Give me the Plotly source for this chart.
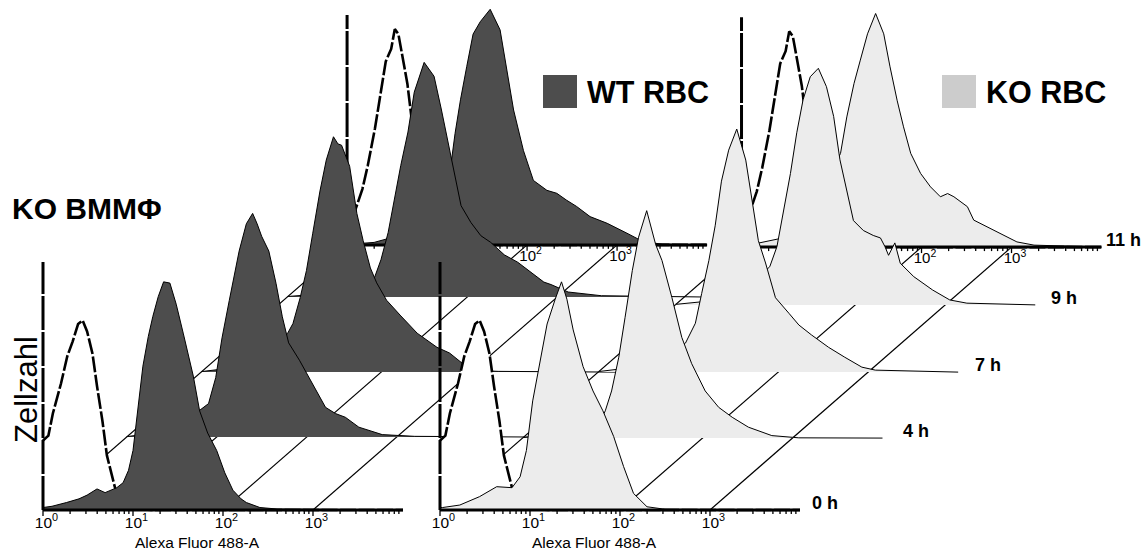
import plotly.graph_objects as go
import math

# ---------------- data (x: log10 fluorescence in decades, y: % of max count) -------------
TIMES = ["0 h", "4 h", "7 h", "9 h", "11 h"]
WT_DEPTH = [0, 29.4, 55.6, 85.9, 106.9]     # layer offset (in % units) for each time point
KO_DEPTH = [0, 29.0, 55.6, 82.7, 106.0]
TICK_DECADES = [0, 1, 2, 3]
TICK_LABELS = ["10<sup>0</sup>", "10<sup>1</sup>", "10<sup>2</sup>", "10<sup>3</sup>"]
AXIS_TITLE = "Alexa Fluor 488-A"

# unstained controls (dashed)
CTRL_0H_X = [0.0, 0.06, 0.11, 0.2, 0.27, 0.33, 0.39, 0.44, 0.49, 0.55, 0.6, 0.66, 0.71, 0.76, 0.8, 0.85, 0.92, 1.0, 1.2, 4.0]
CTRL_0H_Y = [28, 30, 39, 51, 62, 68, 75, 76.5, 72, 63, 50, 36, 22, 15, 9, 4, 1.5, 0.5, 0, 0]
CTRL_11H_X = [0.0, 0.085, 0.17, 0.23, 0.31, 0.38, 0.43, 0.49, 0.53, 0.57, 0.62, 0.67, 0.72, 0.8, 0.88, 0.95, 1.05, 1.2, 4.0]
CTRL_11H_Y = [12, 13.4, 22.5, 32, 47, 63, 74, 79, 87, 85, 75, 65, 50, 30, 14, 5, 1, 0, 0]

# WT RBC samples
WT_X = [
    [0.0, 0.1, 0.26, 0.4, 0.49, 0.6, 0.69, 0.76, 0.82, 0.89, 0.95, 1.0, 1.05, 1.11, 1.17, 1.22, 1.28, 1.34,
     1.41, 1.48, 1.56, 1.62, 1.67, 1.74, 1.83, 1.93, 2.02, 2.11, 2.2, 2.26, 2.41, 2.6, 3.0, 4.0],
    [0, 0.3, 0.6, 0.84, 0.91, 0.99, 1.06, 1.14, 1.25, 1.33, 1.40, 1.45, 1.5, 1.58, 1.66, 1.73, 1.8, 1.92,
     2.06, 2.21, 2.32, 2.43, 2.58, 2.84, 3.2, 4.6],
    [0, 0.3, 0.6, 0.85, 0.96, 1.02, 1.1, 1.17, 1.24, 1.32, 1.39, 1.47, 1.52, 1.56, 1.65, 1.73, 1.8, 1.88,
     1.95, 2.06, 2.21, 2.4, 2.62, 2.76, 2.9, 2.98, 3.3, 4.6],
    [0, 0.5, 0.8, 0.96, 1.04, 1.12, 1.19, 1.26, 1.34, 1.41, 1.52, 1.63, 1.71, 1.82, 1.93, 2.04, 2.15, 2.26,
     2.41, 2.56, 2.71, 2.85, 2.93, 3.12, 3.49, 4.6],
    [0, 0.3, 0.6, 0.9, 1.05, 1.16, 1.2, 1.26, 1.33, 1.4, 1.48, 1.59, 1.7, 1.77, 1.85, 1.96, 2.07, 2.22,
     2.33, 2.44, 2.55, 2.7, 2.89, 3.11, 3.29, 3.5, 4.0],
]
WT_Y = [
    [1, 1.5, 3, 4.5, 6, 8.5, 7, 8, 9, 11, 16, 24, 40, 58, 70, 78, 86, 92,
     91.5, 83, 71, 62, 54, 40, 31, 24, 15, 8, 4.5, 3, 1, 0.4, 0.2, 0],
    [0.2, 1.5, 5, 11.7, 13.5, 24, 40, 55, 75, 86, 90.2, 86, 81, 75, 62, 48.5, 38, 31,
     21.6, 12, 9.5, 8, 4, 1, 0.3, 0],
    [0.2, 1.5, 5, 11, 15.6, 19.6, 30, 41, 56, 73, 85.5, 94.9, 92, 91.5, 83, 64, 53, 42,
     36, 29, 23, 15.7, 10, 7.7, 3.6, 0.8, 0.3, 0],
    [0.2, 1.5, 4, 7, 15, 26, 39.5, 53, 66.5, 82.6, 94.6, 89, 75.8, 55.6, 36.8, 30, 24.7, 22,
     17, 14, 10, 6, 5, 2, 0.5, 0],
    [0.2, 1, 4, 15, 25, 34, 45, 58.5, 72, 85, 90, 95, 86.7, 72, 54.4, 38, 26, 22,
     20.8, 18, 15.5, 11.4, 8.7, 4.7, 1.3, 0.3, 0],
]

# KO RBC samples
KO_X = [
    [0, 0.03, 0.22, 0.44, 0.63, 0.8, 0.89, 0.96, 1.03, 1.11, 1.19, 1.28, 1.35, 1.41, 1.48, 1.59, 1.7, 1.81,
     1.93, 2.04, 2.15, 2.3, 2.5, 4.0],
    [0, 0.5, 0.85, 0.92, 0.99, 1.07, 1.14, 1.22, 1.29, 1.38, 1.48, 1.55, 1.66, 1.77, 1.88, 2.03, 2.18, 2.33,
     2.51, 2.77, 3.07, 4.0],
    [0, 0.3, 0.6, 0.86, 0.97, 1.08, 1.15, 1.23, 1.3, 1.37, 1.45, 1.54, 1.64, 1.71, 1.78, 1.86, 1.97, 2.12,
     2.23, 2.37, 2.56, 2.74, 2.93, 3.08, 4.0],
    [0, 0.5, 0.8, 1.05, 1.13, 1.2, 1.28, 1.35, 1.42, 1.5, 1.59, 1.68, 1.76, 1.83, 1.91, 1.98, 2.09, 2.2,
     2.28, 2.33, 2.37, 2.44, 2.5, 2.65, 2.86, 3.05, 3.24, 4.0],
    [0, 0.5, 0.8, 1.1, 1.17, 1.25, 1.32, 1.4, 1.49, 1.58, 1.65, 1.73, 1.8, 1.88, 1.99, 2.1, 2.21, 2.29,
     2.36, 2.51, 2.58, 2.73, 2.88, 3.06, 3.25, 4.0],
]
KO_Y = [
    [1, 1, 2, 5.4, 9.4, 9, 13.4, 24, 44, 60, 75, 85, 92, 85, 72.6, 57.8, 48, 40,
     29.6, 17.5, 6.7, 1.3, 0.3, 0],
    [0.2, 1.5, 5.8, 11, 19, 32.6, 48.7, 67.5, 81, 91.7, 78, 71.6, 56.7, 40.6, 30, 19, 12.4, 8.4,
     4.4, 1, 0.1, 0],
    [0.2, 1.5, 4, 9, 11.7, 19.7, 31.7, 45, 59, 77, 89.5, 98, 85.5, 69, 53, 44, 30, 23.7,
     19, 15, 10, 6, 2, 0.8, 0],
    [0.2, 2, 7, 15.4, 23.5, 37, 53, 69.4, 82.7, 92, 95.4, 88, 76, 58.5, 45, 34, 30, 28,
     27, 23.5, 20, 25, 16.8, 11.4, 6, 2, 0.7, 0],
    [0.2, 4, 15, 37.8, 52.5, 66, 75.4, 86, 94.2, 86, 72.7, 59, 48.5, 37.8, 29.7, 24.3, 20.3, 21.6,
     20.3, 16.3, 10.9, 8.2, 5.5, 2.1, 0.8, 0],
]

# ---------------- layout / style constants ----------------
W, H = 1148, 552
PX_DEC = 90.0           # pixels per decade
PX_PCT = 2.48           # pixels per % count
SLANT = 1.147           # horizontal px per vertical px of layer offset
ORIGIN_PX = (43, 510)   # front origin of the WT panel
KO_PANEL_SHIFT = (440 - 43) / PX_DEC
AXIS_END = 4.0
AXIS_H = [100, 92.7]    # front / back y-axis line height (%)
LABEL_GAP_PX = [10, 19, 15, 14, 2]
FONT = "Liberation Sans, Arial, sans-serif"
DARK = "#4d4d4d"
LIGHT = "#ececec"
LIGHT_SW = "#cccccc"

fig = go.Figure()


def shift(depth):
    return depth * PX_PCT * SLANT / PX_DEC, depth


def line(xs, ys, width=1.0, color="black", dash=None):
    fig.add_trace(go.Scatter(x=xs, y=ys, mode="lines",
                             line=dict(width=width, color=color, dash=dash),
                             hoverinfo="skip", showlegend=False))


def hist(x0, y0, xs, ys, fill, dashed=False):
    X = [x0 + v for v in xs]
    Y = [y0 + v for v in ys]
    fig.add_trace(go.Scatter(x=X + [X[-1], X[0]], y=Y + [y0, y0], mode="lines",
                             fill="toself", fillcolor=fill, line=dict(width=0),
                             hoverinfo="skip", showlegend=False))
    if dashed:
        line(X, Y, width=2.6, dash="16px,2.5px")
    else:
        line(X, Y, width=1.0)


def axis(x0, y0, h, labels, lab_size, lab_off_px):
    # horizontal axis + log ticks
    line([x0, x0 + AXIS_END], [y0, y0], width=3)
    tx, ty = [], []
    for d in TICK_DECADES:
        for k in range(1, 10):
            p = d + math.log10(k)
            ln = 2.4 if k == 1 else 1.6
            tx += [x0 + p, x0 + p, None]
            ty += [y0, y0 - ln, None]
    line(tx, ty, width=1.3)
    # vertical axis
    line([x0, x0], [y0, y0 + h], width=3, dash="34px,2px")
    # tick labels
    fig.add_trace(go.Scatter(
        x=[x0 + d + 3.5 / PX_DEC for d in TICK_DECADES],
        y=[y0 - lab_off_px / PX_PCT] * len(TICK_DECADES),
        mode="text", text=labels, textposition="middle center",
        textfont=dict(family=FONT, size=lab_size, color="black"),
        hoverinfo="skip", showlegend=False))


def panel(px0, depths, XS, YS, fill):
    bdx, bdy = shift(depths[-1])
    # diagonal guide lines from front ticks to back ticks
    for d in TICK_DECADES:
        line([px0 + d, px0 + d + bdx], [0, bdy], width=1.2)
    # back layer (11 h): control, sample, axis
    hist(px0 + bdx, bdy, CTRL_11H_X, CTRL_11H_Y, "white", dashed=True)
    hist(px0 + bdx, bdy, XS[-1], YS[-1], fill)
    axis(px0 + bdx, bdy, AXIS_H[1], TICK_LABELS, 15, 12)
    # middle layers
    for i in range(len(depths) - 2, 0, -1):
        dx, dy = shift(depths[i])
        hist(px0 + dx, dy, XS[i], YS[i], fill)
    # front layer (0 h)
    hist(px0, 0, CTRL_0H_X, CTRL_0H_Y, "white", dashed=True)
    hist(px0, 0, XS[0], YS[0], fill)
    axis(px0, 0, AXIS_H[0], TICK_LABELS, 15.5, 14)
    fig.add_annotation(x=px0 + 1.72, y=-32 / PX_PCT, text=AXIS_TITLE, showarrow=False,
                       font=dict(family=FONT, size=15.5, color="black"),
                       xanchor="center", yanchor="middle")


panel(0.0, WT_DEPTH, WT_X, WT_Y, DARK)
panel(KO_PANEL_SHIFT, KO_DEPTH, KO_X, KO_Y, LIGHT)

# time labels at the right end of each KO layer
for i, t in enumerate(TIMES):
    dx, dy = shift(KO_DEPTH[i])
    fig.add_annotation(x=KO_PANEL_SHIFT + dx + AXIS_END + LABEL_GAP_PX[i] / PX_DEC,
                       y=dy + 7 / PX_PCT, text=f"<b>{t}</b>", showarrow=False,
                       font=dict(family=FONT, size=18, color="black"),
                       xanchor="left", yanchor="middle")

# titles and legend
fig.add_annotation(xref="paper", yref="paper", x=26 / W, y=1 - 390 / H, text="Zellzahl",
                   textangle=-90, showarrow=False, font=dict(family=FONT, size=31, color="black"),
                   xanchor="center", yanchor="middle")
fig.add_annotation(xref="paper", yref="paper", x=10 / W, y=1 - 208 / H, text="<b>KO BMMΦ</b>",
                   showarrow=False, font=dict(family=FONT, size=30, color="black"),
                   xanchor="left", yanchor="middle")
for (sx, color, name) in [(543, DARK, "WT RBC"), (942, LIGHT_SW, "KO RBC")]:
    fig.add_shape(type="rect", xref="paper", yref="paper",
                  x0=sx / W, x1=(sx + 34) / W, y0=1 - 108 / H, y1=1 - 75 / H,
                  fillcolor=color, line=dict(width=0))
    fig.add_annotation(xref="paper", yref="paper", x=(sx + 42) / W, y=1 - 92 / H,
                       text=f"<b>{name}</b>", showarrow=False,
                       font=dict(family=FONT, size=30.5, color="black"),
                       xanchor="left", yanchor="middle")

fig.update_layout(
    width=W, height=H, margin=dict(l=0, r=0, t=0, b=0),
    paper_bgcolor="white", plot_bgcolor="white", hovermode=False,
    xaxis=dict(range=[-ORIGIN_PX[0] / PX_DEC, (W - ORIGIN_PX[0]) / PX_DEC], visible=False, fixedrange=True),
    yaxis=dict(range=[-(H - ORIGIN_PX[1]) / PX_PCT, ORIGIN_PX[1] / PX_PCT], visible=False, fixedrange=True),
)
fig.write_html("out.html")
